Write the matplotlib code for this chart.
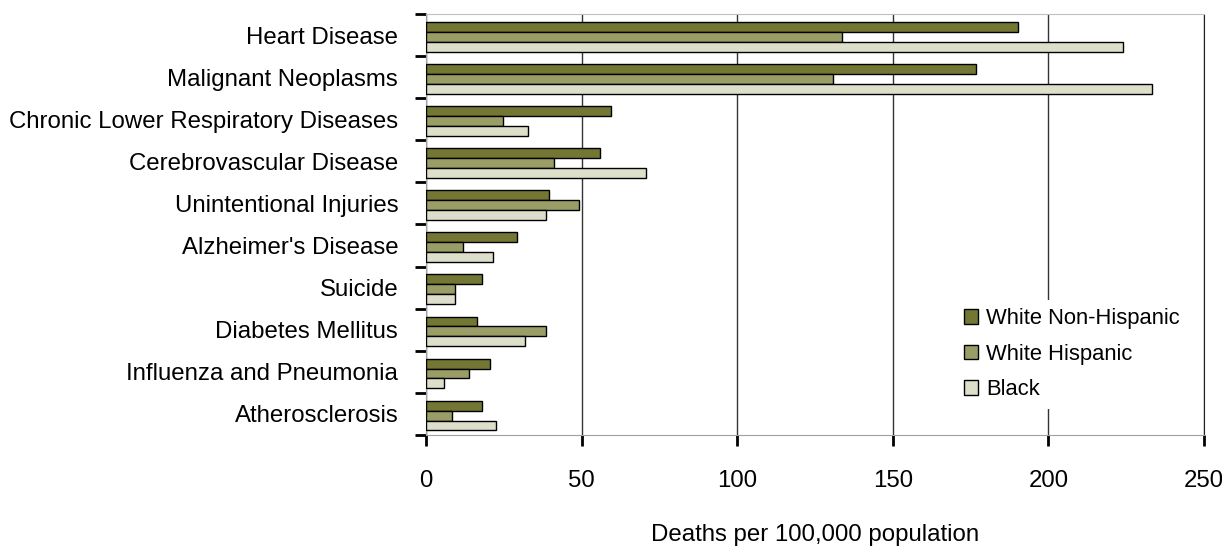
import numpy as np
import matplotlib
matplotlib.use("Agg")
import matplotlib.pyplot as plt

plt.rcParams['font.family'] = ['Liberation Sans', 'DejaVu Sans']

causes = ["Heart Disease", "Malignant Neoplasms", "Chronic Lower Respiratory Diseases",
          "Cerebrovascular Disease", "Unintentional Injuries", "Alzheimer's Disease",
          "Suicide", "Diabetes Mellitus", "Influenza and Pneumonia", "Atherosclerosis"]
white_non_hispanic = [190.2, 176.6, 59.3, 55.9, 39.6, 29.1, 18.0, 16.3, 20.6, 18.0]
white_hispanic = [133.6, 130.9, 24.9, 41.2, 49.1, 12.0, 9.4, 38.7, 13.7, 8.5]
black = [224.0, 233.4, 32.7, 70.6, 38.7, 21.4, 9.4, 31.8, 5.9, 22.4]
series_names = ["White Non-Hispanic", "White Hispanic", "Black"]
colors = ["#747733", "#9a9e66", "#dedfca"]

fs = 17.3

fig = plt.figure(figsize=(12.22, 5.48), dpi=100)
ax = fig.add_axes([0.3486, 0.2062, 0.6367, 0.7683])

y = np.arange(len(causes))
h = 0.235
for i, (vals, name, c) in enumerate(zip([white_non_hispanic, white_hispanic, black], series_names, colors)):
    ax.barh(y + (i - 1) * h + 0.04, vals, height=h, color=c, edgecolor="black", linewidth=1,
            label=name, zorder=3)

ax.set_xlim(0, 250)
ax.set_ylim(len(causes) - 0.5, -0.5)
ax.set_xticks([0, 50, 100, 150, 200, 250])
ax.set_xticklabels(["0", "50", "100", "150", "200", "250"])
ax.tick_params(axis="x", length=8, width=2, direction="out", pad=17.5, labelsize=fs)
ax.set_yticks(y)
ax.set_yticklabels(causes)
ax.tick_params(axis="y", which="major", length=0, pad=20, labelsize=fs)
ax.set_yticks(np.arange(len(causes) + 1) - 0.5, minor=True)
ax.tick_params(axis="y", which="minor", length=8, width=2, direction="out")

ax.grid(axis="x", color="#333333", linewidth=1, zorder=0)
ax.spines["top"].set_color("#c0c0c0")
ax.spines["right"].set_color("#222222")
ax.spines["bottom"].set_color("#a0a0a0")
ax.spines["left"].set_color("#a0a0a0")

ax.set_xlabel("Deaths per 100,000 population", fontsize=fs, labelpad=23)

leg = ax.legend(loc="center left", bbox_to_anchor=(0.68, 0.192), frameon=True,
                facecolor="white", edgecolor="none", framealpha=1, fontsize=15.8,
                borderaxespad=0, handlelength=0.65, handleheight=0.65,
                labelspacing=0.65, handletextpad=0.35)

fig.savefig("out.png", dpi=100)
